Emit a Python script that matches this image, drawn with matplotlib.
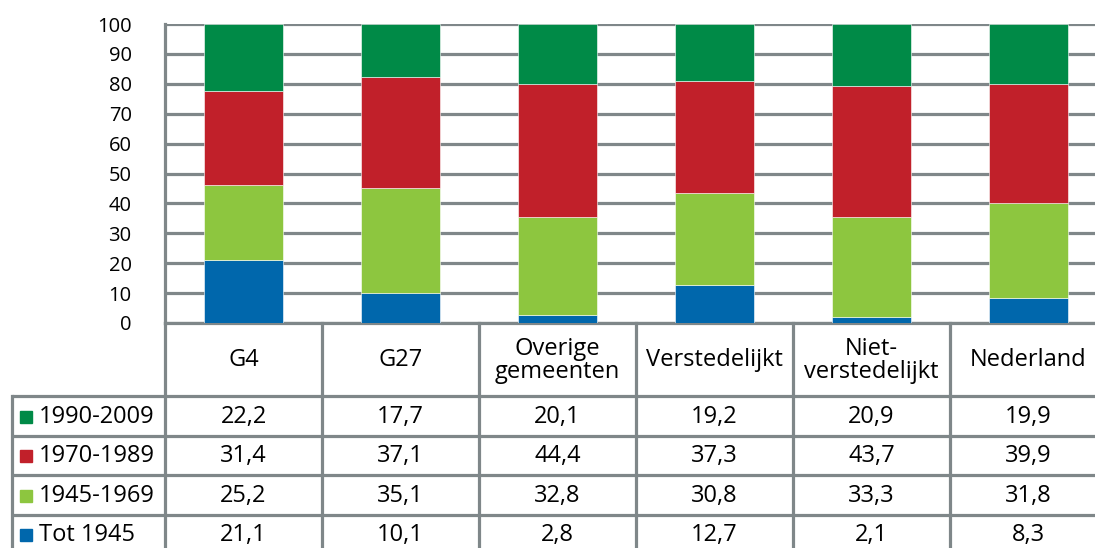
import matplotlib.pyplot as plt
import numpy as np

plt.rcParams['font.family'] = ['Open Sans', 'DejaVu Sans']

# categorieen en aandelen woningvoorraad per bouwperiode (%)
regios = ["G4", "G27", "Overige\ngemeenten", "Verstedelijkt", "Niet-\nverstedelijkt", "Nederland"]
perioden = ["Tot 1945", "1945-1969", "1970-1989", "1990-2009"]
tot_1945 = [21.1, 10.1, 2.8, 12.7, 2.1, 8.3]
p_1945_1969 = [25.2, 35.1, 32.8, 30.8, 33.3, 31.8]
p_1970_1989 = [31.4, 37.1, 44.4, 37.3, 43.7, 39.9]
p_1990_2009 = [22.2, 17.7, 20.1, 19.2, 20.9, 19.9]
kleuren = ["#0067ac", "#8dc63f", "#c1202a", "#008a47"]

W, H = 1095, 548
grijs = "#7f8789"
lw = 2.3
fs = 17

fig = plt.figure(figsize=(W / 100, H / 100), dpi=100)

# plotgebied in pixels
x0, colw = 165, 157
y_top, y_nul = 24, 323
ax = fig.add_axes([x0 / W, (H - y_nul) / H, 6 * colw / W, (y_nul - y_top) / H])
ax.set_xlim(-0.5, 5.5)
ax.set_ylim(0, 100)

x = np.arange(len(regios))
series = [tot_1945, p_1945_1969, p_1970_1989, p_1990_2009]
bodem = np.zeros(len(regios))
for waarden, kleur in zip(series, kleuren):
    ax.bar(x, waarden, bottom=bodem, width=0.5, color=kleur,
           edgecolor="white", linewidth=0.4, zorder=3)
    bodem += np.array(waarden)

ax.set_yticks(range(0, 101, 10))
ax.tick_params(axis="y", length=0, labelsize=14.5, pad=24)
ax.set_xticks([])
ax.yaxis.grid(True, color=grijs, linewidth=lw, zorder=0)
for s in ["top", "right"]:
    ax.spines[s].set_visible(False)
for s in ["left", "bottom"]:
    ax.spines[s].set_color(grijs)
    ax.spines[s].set_linewidth(lw)

# tabel onder de grafiek, in pixelcoordinaten
tab = fig.add_axes([0, 0, 1, 1])
tab.set_xlim(0, W)
tab.set_ylim(H, 0)
tab.axis("off")

kol = [x0 + i * colw for i in range(7)]
rij_boven = 396
rijh = 39.5
rijen = [rij_boven + i * rijh for i in range(5)]

# horizontale lijnen
for y in rijen:
    tab.plot([12, W + 20], [y, y], color=grijs, lw=lw, solid_capstyle="butt")
# verticale lijnen
tab.plot([12, 12], [rij_boven, H + 5], color=grijs, lw=lw)
for xk in kol:
    tab.plot([xk, xk], [y_nul, H + 5], color=grijs, lw=lw)

# kolomkoppen
for i, naam in enumerate(regios):
    tab.text((kol[i] + kol[i + 1]) / 2, (y_nul + rij_boven) / 2 + 1, naam,
             ha="center", va="center", fontsize=fs, linespacing=0.95)

# rijen met legenda en waarden, van boven naar beneden
volgorde = [3, 2, 1, 0]
for r, k in enumerate(volgorde):
    yc = rijen[r] + rijh / 2 + 1
    tab.add_patch(plt.Rectangle((20, yc - 6), 12, 12, color=kleuren[k]))
    tab.text(39, yc, perioden[k], ha="left", va="center", fontsize=fs)
    for i, v in enumerate(series[k]):
        tab.text((kol[i] + kol[i + 1]) / 2, yc, f"{v:.1f}".replace(".", ","),
                 ha="center", va="center", fontsize=fs)

fig.savefig("out.png", dpi=100)
